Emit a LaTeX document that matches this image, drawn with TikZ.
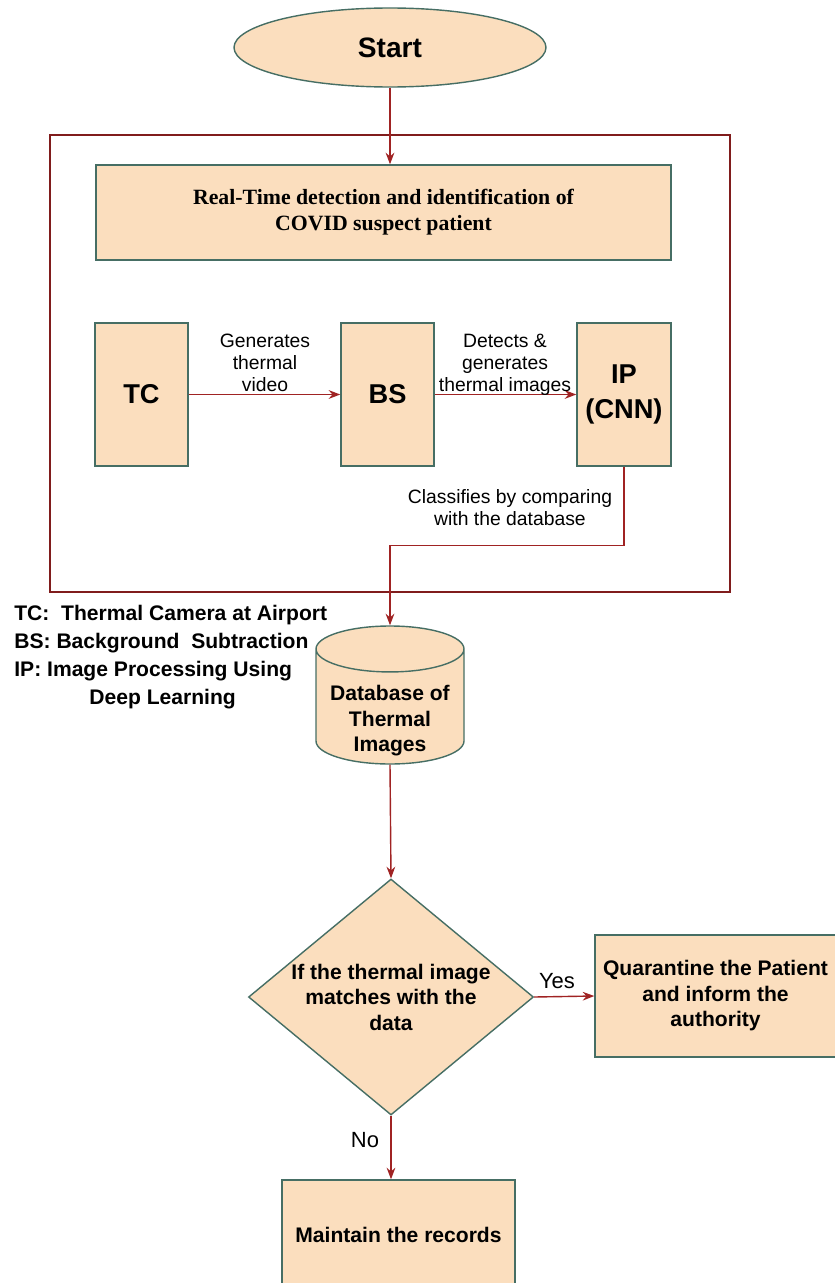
\documentclass[tikz,border=0pt]{standalone}
\usepackage{fontspec}
\setmainfont{Liberation Sans}
\newfontfamily\titlefont{Liberation Serif}
\usepackage{tikz}
\usetikzlibrary{shapes.geometric, arrows.meta, positioning}

\definecolor{peach}{RGB}{251,222,190}
\definecolor{edgegreen}{RGB}{70,110,100}
\definecolor{flowred}{RGB}{160,35,35}

\begin{document}
\begin{tikzpicture}[
    terminal/.style={ellipse, draw=edgegreen, fill=peach, line width=0.8pt, minimum width=6.24cm, minimum height=1.58cm, font=\fontsize{16}{19}\selectfont\bfseries},
    block/.style={rectangle, draw=edgegreen, fill=peach, line width=0.8pt, align=center, font=\fontsize{12}{14.5}\selectfont\bfseries},
    unit/.style={block, minimum width=1.86cm, minimum height=2.86cm, font=\fontsize{15.5}{20}\selectfont\bfseries},
    decision/.style={diamond, aspect=1.2, draw=edgegreen, fill=peach, line width=0.8pt, minimum width=5.7cm, minimum height=4.72cm, inner sep=0pt, align=center, font=\fontsize{12}{14.5}\selectfont\bfseries},
    store/.style={cylinder, shape border rotate=90, aspect=0.35, draw=edgegreen, fill=peach, line width=0.8pt, minimum width=2.96cm, minimum height=2.76cm, font=\fontsize{12}{14.5}\selectfont\bfseries},
    frame/.style={rectangle, draw=flowred!80!black, line width=0.6pt, minimum width=13.6cm, minimum height=9.14cm},
    arrow/.style={->, >=Stealth, line width=0.8pt, draw=flowred},
    note/.style={align=center, font=\fontsize{11}{12.5}\selectfont, inner sep=1pt}
]
\useasboundingbox (0,0) rectangle (16.68,-25.66);

% Outer frame round the detection stage
\node[frame] (frame) at (7.8,-7.27) {};

% Start
\node[terminal] (start) at (7.8,-0.95) {Start};

% Detection stage
\node[block, minimum width=11.5cm, minimum height=1.9cm, font=\titlefont\fontsize{12.4}{14.8}\selectfont\bfseries] (title) at (7.67,-4.25) {Real-Time detection and identification of\\COVID suspect patient};
\node[unit] (tc) at (2.83,-7.89) {TC};
\node[unit] (bs) at (7.75,-7.89) {BS};
\node[unit, minimum width=1.88cm] (ip) at (12.48,-7.89) {IP\\(CNN)};

% Legend
\node[align=left, font=\fontsize{12}{16}\selectfont\bfseries, anchor=north west, inner sep=0pt] (legend) at (0.28,-12.1) {TC:~~Thermal Camera at Airport\\BS: Background~~Subtraction\\IP: Image Processing Using\\\hspace*{1.5cm}Deep Learning};

% Database and decision
\node[store, anchor=shape center] (db) at (7.8,-13.9) {\phantom{Database of}};
\node[block, draw=none, fill=none, inner sep=0pt] (dbtext) at ([yshift=-0.52cm]db.shape center) {Database of\\Thermal\\Images};
\node[decision] (check) at (7.82,-19.94) {If the thermal image\\matches with the\\data};
\node[block, minimum width=4.82cm, minimum height=2.44cm] (quar) at (14.31,-19.92) {Quarantine the Patient\\and inform the\\authority};
\node[block, minimum width=4.66cm, minimum height=2.2cm] (keep) at (7.97,-24.7) {Maintain the records};

% Arrows
\draw[arrow] (start.south) -- (title.north -| start.south);
\draw[arrow] (tc.east) -- (bs.west);
\node[note] (lbl1) at (5.3,-7.25) {Generates\\thermal\\video};
\draw[arrow] (bs.east) -- (ip.west);
\node[note] (lbl2) at (10.1,-7.3) {Detects \&\\generates\\thermal images};
\draw[arrow] (ip.south) -- ++(0,-1.58) -| (db.north);
\node[note] (lbl3) at (10.2,-10.16) {Classifies by comparing\\with the database};
\draw[arrow] (db.south) -- (check.north);
\draw[arrow] (check.east) -- (quar.west);
\node[note, font=\fontsize{12.5}{14}\selectfont] (yes) at (11.14,-19.62) {Yes};
\draw[arrow] (check.south) -- (keep.north -| check.south);
\node[note, font=\fontsize{12.5}{14}\selectfont] (no) at (7.3,-22.8) {No};

\end{tikzpicture}
\end{document}
